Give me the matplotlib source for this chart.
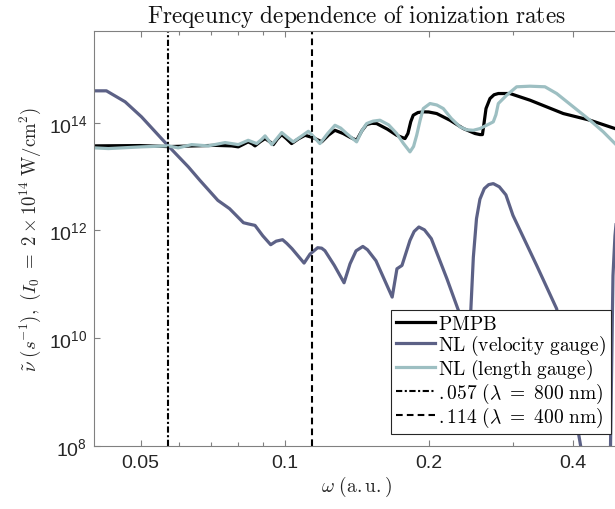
import matplotlib
matplotlib.use("Agg")
import matplotlib.pyplot as plt
import numpy as np

plt.rcParams['font.family'] = ['Liberation Sans', 'DejaVu Sans']
plt.rcParams['mathtext.fontset'] = 'cm'

# ---------------- data ----------------
pmpb_omega = [0.0400, 0.0498, 0.0571, 0.0715, 0.0775, 0.0800, 0.0820, 0.0839, 0.0855,
              0.0867, 0.0890, 0.0910, 0.0930, 0.0947, 0.0966, 0.0986, 0.1010, 0.1034,
              0.1068, 0.1103, 0.1150, 0.1195, 0.1235, 0.1274, 0.1326, 0.1370, 0.1414,
              0.1450, 0.1484, 0.1520, 0.1557, 0.1640, 0.1715, 0.1785, 0.1810, 0.1835,
              0.1857, 0.1900, 0.1949, 0.2000, 0.2079, 0.2216, 0.2364, 0.2500, 0.2561,
              0.2591, 0.2610, 0.2636, 0.2687, 0.2740, 0.2797, 0.2958, 0.3258, 0.3824,
              0.4348, 0.4904, 0.5000]
pmpb_log10 = [13.570, 13.576, 13.557, 13.580, 13.570, 13.552, 13.600, 13.645, 13.610,
              13.570, 13.650, 13.706, 13.650, 13.594, 13.700, 13.780, 13.700, 13.613,
              13.700, 13.767, 13.720, 13.645, 13.770, 13.860, 13.799, 13.730, 13.674,
              13.850, 13.967, 13.990, 13.985, 13.880, 13.767, 13.706, 13.800, 14.020,
              14.140, 14.190, 14.203, 14.200, 14.171, 14.047, 13.892, 13.800, 13.780,
              13.780, 13.980, 14.264, 14.450, 14.520, 14.543, 14.543, 14.419, 14.171,
              14.047, 13.892, 13.860]

length_omega = [0.0401, 0.0428, 0.0502, 0.0571, 0.0599, 0.0639, 0.0692, 0.0751,
                0.0800, 0.0839, 0.0874, 0.0895, 0.0910, 0.0940, 0.0962, 0.0986,
                0.1010, 0.1042, 0.1080, 0.1121, 0.1150, 0.1185, 0.1230, 0.1274,
                0.1310, 0.1348, 0.1414, 0.1450, 0.1484, 0.1530, 0.1582, 0.1650,
                0.1715, 0.1770, 0.1828, 0.1860, 0.1888, 0.1920, 0.1949, 0.2013,
                0.2080, 0.2146, 0.2230, 0.2326, 0.2400, 0.2479, 0.2561, 0.2680,
                0.2730, 0.2765, 0.2797, 0.2912, 0.3055, 0.3258, 0.3501, 0.3704,
                0.4012, 0.4348, 0.4636, 0.4904, 0.5000]
length_log10 = [13.533, 13.520, 13.552, 13.570, 13.533, 13.594, 13.570, 13.632,
                13.594, 13.674, 13.613, 13.690, 13.756, 13.594, 13.700, 13.818,
                13.740, 13.645, 13.740, 13.842, 13.740, 13.613, 13.800, 13.953,
                13.900, 13.799, 13.645, 13.850, 13.985, 14.030, 14.047, 13.960,
                13.799, 13.620, 13.459, 13.560, 13.767, 14.050, 14.264, 14.357,
                14.330, 14.264, 14.080, 13.924, 13.870, 13.860, 13.892, 13.980,
                14.017, 14.150, 14.357, 14.512, 14.668, 14.679, 14.668, 14.543,
                14.296, 14.047, 13.831, 13.613, 13.540]

velocity_omega = [0.0400, 0.0424, 0.0464, 0.0502, 0.0571, 0.0629, 0.0665, 0.0725,
                  0.0767, 0.0820, 0.0840, 0.0867, 0.0900, 0.0935, 0.0960, 0.0990,
                  0.1010, 0.1036, 0.1098, 0.1130, 0.1172, 0.1195, 0.1214, 0.1270,
                  0.1331, 0.1370, 0.1410, 0.1457, 0.1490, 0.1552, 0.1678, 0.1717,
                  0.1759, 0.1828, 0.1865, 0.1908, 0.1960, 0.2026, 0.2184, 0.2315,
                  0.2385, 0.2449, 0.2480, 0.2518, 0.2560, 0.2614, 0.2670, 0.2730,
                  0.2810, 0.2901, 0.3001, 0.3364, 0.3704, 0.4144, 0.4246, 0.4450,
                  0.4680, 0.4800, 0.4857, 0.4904, 0.5000]
velocity_log10 = [14.593, 14.593, 14.389, 14.110, 13.570, 13.180, 12.930, 12.558,
                  12.404, 12.143, 12.120, 12.093, 11.900, 11.734, 11.800, 11.827,
                  11.760, 11.660, 11.393, 11.560, 11.678, 11.670, 11.622, 11.350,
                  11.027, 11.380, 11.620, 11.702, 11.640, 11.436, 10.761, 11.287,
                  11.349, 11.814, 11.980, 12.063, 12.010, 11.846, 11.101, 10.482,
                  9.000, 10.482, 11.500, 12.218, 12.580, 12.776, 12.850, 12.869,
                  12.810, 12.660, 12.279, 11.349, 10.543, 8.069, 7.500, 6.500,
                  7.300, 8.000, 11.160, 11.900, 12.700]

vline_omegas = [0.057, 0.114]
legend_labels = [r'$\mathrm{PMPB}$',
                 r'$\mathrm{NL\ (velocity\ gauge)}$',
                 r'$\mathrm{NL\ (length\ gauge)}$',
                 r'${.}057\ (\lambda\ {=}\ 800\ \mathrm{nm})$',
                 r'${.}114\ (\lambda\ {=}\ 400\ \mathrm{nm})$']
xtick_vals = [0.05, 0.1, 0.2, 0.4]
xtick_labels = ['0.05', '0.1', '0.2', '0.4']
xminor_vals = [0.06, 0.07, 0.08, 0.09, 0.3]
ytick_vals = [1e8, 1e10, 1e12, 1e14]
ytick_labels = [r'$\mathdefault{10^{8}}$', r'$\mathdefault{10^{10}}$',
                r'$\mathdefault{10^{12}}$', r'$\mathdefault{10^{14}}$']

# ---------------- figure ----------------
fig = plt.figure(figsize=(6.15, 5.10), dpi=100)
ax = fig.add_axes([94.3 / 615, 63.3 / 510, 524.7 / 615, 414.4 / 510])

lw = 2.3
ax.plot(pmpb_omega, 10 ** np.array(pmpb_log10), color='black', lw=lw,
        label=legend_labels[0], solid_joinstyle='round')
ax.plot(velocity_omega, 10 ** np.array(velocity_log10), color='#5c6186', lw=lw,
        label=legend_labels[1], solid_joinstyle='round')
ax.plot(length_omega, 10 ** np.array(length_log10), color='#9dbfc2', lw=lw,
        label=legend_labels[2], solid_joinstyle='round')
ax.axvline(vline_omegas[0], color='black', lw=1.5, ls=(0, (3, 1.2, 1, 1.2)),
           label=legend_labels[3])
ax.axvline(vline_omegas[1], color='black', lw=1.5, ls=(0, (3.2, 2.0)),
           label=legend_labels[4])

ax.set_xscale('log')
ax.set_yscale('log')
ax.set_xlim(0.04, 0.5)
ax.set_ylim(1e8, 5e15)

ax.set_xticks(xtick_vals)
ax.set_xticklabels(xtick_labels)
ax.set_xticks(xminor_vals, minor=True)
ax.set_xticklabels([], minor=True)
ax.set_yticks(ytick_vals)
ax.set_yticklabels(ytick_labels)
ax.set_yticks([], minor=True)

ax.tick_params(which='both', direction='in', top=True, right=False,
               colors='#808080', labelcolor='#262626', labelsize=14)
ax.tick_params(which='major', length=4.5, width=0.8)
ax.tick_params(which='minor', length=3, width=0.8)
ax.tick_params(axis='x', pad=6)
ax.tick_params(axis='y', pad=5)
for s in ax.spines.values():
    s.set_color('#808080')
    s.set_linewidth(0.8)

ax.set_title(r'$\mathrm{Freqeuncy\ dependence\ of\ ionization\ rates}$',
             fontsize=16.8, pad=7, color='#111111')
ax.set_xlabel(r'$\omega\ (\mathrm{a.u.})$', fontsize=14, labelpad=2, color='#262626')
ax.set_ylabel(r'$\tilde{\nu}\ (s^{-1}),\ (I_0\ {=}\ 2\times 10^{14}\ \mathrm{W/cm^2})$',
              fontsize=13.5, labelpad=4, color='#262626')

leg = ax.legend(loc='lower right', bbox_to_anchor=(0.984, 0.028), borderaxespad=0,
                fontsize=14, frameon=True, fancybox=False, framealpha=1,
                edgecolor='#262626', handlelength=2.0, handletextpad=0.15,
                labelspacing=0.0, borderpad=0.25)
leg.get_frame().set_linewidth(0.8)

fig.savefig('out.png', dpi=100)
